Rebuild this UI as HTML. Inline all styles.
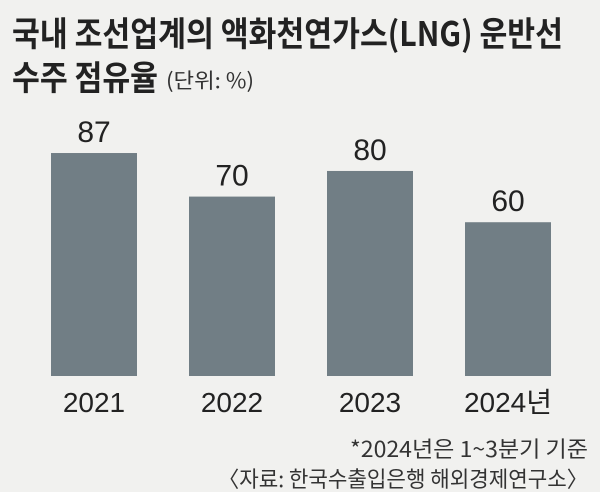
<!DOCTYPE html>
<html><head><meta charset="utf-8"><style>
html,body{margin:0;padding:0;background:#f1f1ef;}
svg{display:block;font-family:"Liberation Sans Narrow","Liberation Sans","Noto Sans CJK KR",sans-serif;}
</style></head><body>
<svg id="chart" width="600" height="492" viewBox="0 0 600 492">
<rect x="0" y="0" width="600" height="492" fill="#f1f1ef"/>
<text x="12" y="46" font-size="34" font-weight="bold" fill="#222" textLength="551" lengthAdjust="spacingAndGlyphs" font-family="'Noto Sans CJK KR',sans-serif">국내 조선업계의 액화천연가스(LNG) 운반선</text>
<text x="12" y="90" font-size="34" font-weight="bold" fill="#222" textLength="146" lengthAdjust="spacingAndGlyphs" font-family="'Noto Sans CJK KR',sans-serif">수주 점유율</text>
<text x="166" y="88" font-size="21" fill="#333" textLength="88" lengthAdjust="spacingAndGlyphs" font-family="'Noto Sans CJK KR',sans-serif">(단위: %)</text>
<g id="bars"></g>
<text x="588" y="457" font-size="22" fill="#333" text-anchor="end" textLength="238" lengthAdjust="spacingAndGlyphs" font-family="'Noto Sans CJK KR',sans-serif">*2024년은 1~3분기 기준</text>
<text x="588" y="487" font-size="22" fill="#333" text-anchor="end" textLength="370" lengthAdjust="spacingAndGlyphs" font-family="'Noto Sans CJK KR',sans-serif">〈자료: 한국수출입은행 해외경제연구소〉</text>
</svg>
<script>
const categories = ["2021","2022","2023","2024년"];
const values = [87,70,80,60];
const labels = ["87","70","80","60"];
const NS = "http://www.w3.org/2000/svg";
const g = document.getElementById("bars");
const baseY = 376, unit = 2.563, x0 = 51, step = 138, bw = 86;
const y = v => baseY - v * unit;
const x = i => x0 + i * step;
categories.forEach((c, i) => {
  const r = document.createElementNS(NS, "rect");
  r.setAttribute("x", x(i)); r.setAttribute("y", y(values[i]));
  r.setAttribute("width", bw); r.setAttribute("height", baseY - y(values[i]));
  r.setAttribute("fill", "#717e85");
  
  
  g.appendChild(r);
  const t = document.createElementNS(NS, "text");
  t.setAttribute("x", x(i) + bw / 2); t.setAttribute("y", y(values[i]) - 11);
  t.setAttribute("text-anchor", "middle"); t.setAttribute("font-size", "30"); t.setAttribute("fill", "#222");
  t.textContent = labels[i];
  
  
  g.appendChild(t);
  const a = document.createElementNS(NS, "text");
  a.setAttribute("x", x(i) + bw / 2); a.setAttribute("y", 412);
  a.setAttribute("text-anchor", "middle"); a.setAttribute("font-size", "28"); a.setAttribute("fill", "#222");
  a.setAttribute("font-family", "'Liberation Sans Narrow','Liberation Sans','Noto Sans CJK KR',sans-serif");
  a.textContent = c;
  
  
  g.appendChild(a);
});
</script>
</body></html>
